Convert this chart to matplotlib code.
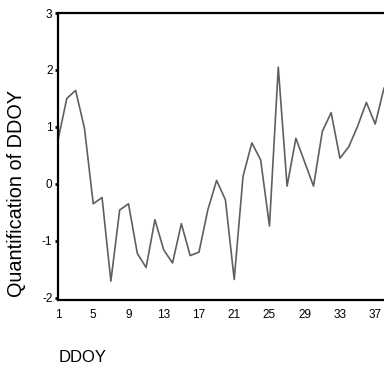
import matplotlib
matplotlib.use("Agg")
import matplotlib.pyplot as plt

days = list(range(1, 39))
values = [0.77, 1.50, 1.64, 0.98, -0.35, -0.24, -1.71, -0.46, -0.35, -1.22,
          -1.47, -0.63, -1.16, -1.39, -0.70, -1.26, -1.20, -0.46, 0.06, -0.28,
          -1.68, 0.13, 0.72, 0.42, -0.74, 2.05, -0.04, 0.80, 0.38, -0.04,
          0.92, 1.25, 0.45, 0.65, 1.01, 1.43, 1.05, 1.68]
xticks = [1, 5, 9, 13, 17, 21, 25, 29, 33, 37]
yticks = [-2, -1, 0, 1, 2, 3]

plt.rcParams['font.family'] = ['Liberation Sans', 'DejaVu Sans']
plt.rcParams['axes.unicode_minus'] = False

fig = plt.figure(figsize=(3.84, 3.69), dpi=100)
ax = fig.add_axes([58/384, 69/369, 1 - 58/384, (300-13)/369])
ax.plot(days, values, color='#5f5f5f', linewidth=1.2, clip_on=True)
ax.set_xlim(1, 38)
ax.set_ylim(-2.04, 3)
ax.set_xticks(xticks)
ax.set_yticks(yticks)
ax.tick_params(axis='x', length=0, pad=6.5, labelsize=8.5)
ax.tick_params(axis='y', length=2.5, width=2, pad=1.5, labelsize=8.5, direction='out')
for s in ['left', 'top', 'bottom']:
    ax.spines[s].set_linewidth(1.6)
    ax.spines[s].set_color('black')
ax.spines['right'].set_visible(False)
fig.text(16.5/384, 1 - 193.5/369, 'Quantification of DDOY', fontsize=14.3,
         rotation=90, ha='center', va='center')
fig.text(59/384, 1 - 357/369, 'DDOY', fontsize=12, ha='left', va='center')

fig.savefig('out.png', dpi=100)
